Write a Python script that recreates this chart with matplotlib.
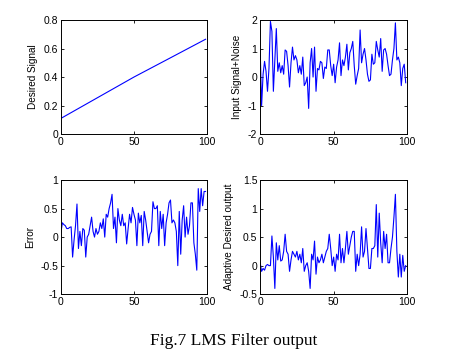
import numpy as np
import matplotlib
matplotlib.use("Agg")
import matplotlib.pyplot as plt
from matplotlib.ticker import FuncFormatter

# desired signal (nearly straight ramp), read at a few points
desired_x = [0, 25, 50, 75, 99]
desired_y = [0.11, 0.255, 0.40, 0.535, 0.665]

# input signal + noise, 100 samples
noisy = [1.0, -1.0, 0.1, 0.55, 0.2, -0.5, 0.3, 1.95, 1.6, -0.5,
         0.6, 1.7, 0.2, 0.5, 0.15, 0.4, 0.1, 0.95, 0.9, 0.4,
         -0.35, 0.5, 1.05, 0.6, 0.75, 0.6, 0.15, 0.4, 0.1, 0.7,
         -0.3, -0.2, 0.0, -1.1, 0.5, 1.0, 0.0, 1.05, -0.5, 0.3,
         0.25, 0.55, 0.5, -0.05, 0.35, 0.3, 0.95, 0.95, 0.4, 0.05,
         0.45, -0.2, 0.35, 0.6, 1.2, 0.05, 0.6, 0.4, 0.7, 1.15,
         0.25, 0.85, 1.0, 1.25, 0.4, -0.25, 0.05, 0.3, 1.65, 0.5,
         0.8, 1.0, 0.6, 0.1, -0.15, -0.1, 0.8, 0.45, 0.5, 1.25,
         0.95, 0.7, 1.35, 0.2, 0.95, 1.0, 0.8, 0.4, 0.05, 0.1,
         0.6, 1.0, 1.9, 0.6, 0.7, 0.5, -0.3, 0.3, 0.45, -0.2]

# error
error = [0.08, 0.25, 0.22, 0.2, 0.15, 0.15, 0.17, 0.18, -0.35, -0.05,
         0.2, 0.58, -0.2, 0.1, -0.15, 0.15, 0.12, -0.35, 0.0, 0.05,
         0.2, 0.35, 0.1, 0.0, 0.15, 0.05, 0.1, 0.25, 0.15, 0.32,
         0.0, 0.4, 0.35, 0.5, 0.6, 0.75, 0.15, 0.35, -0.1, 0.5,
         0.3, 0.2, 0.4, 0.2, 0.25, -0.12, 0.15, 0.4, 0.25, 0.52,
         0.4, 0.3, -0.15, 0.42, 0.25, 0.38, -0.15, 0.45, 0.3, 0.1,
         -0.1, 0.05, 0.1, 0.62, 0.5, 0.5, 0.55, -0.15, 0.45, 0.15,
         0.4, -0.15, 0.25, 0.4, 0.6, 0.65, 0.25, 0.3, 0.25, 0.1,
         -0.5, 0.45, -0.3, 0.3, 0.55, 0.0, 0.35, 0.05, 0.2, 0.6,
         0.6, -0.1, -0.3, -0.58, 0.85, 0.45, 0.85, 0.55, 0.8, 0.8]

# adaptive desired output
adaptive = [0.05, -0.1, -0.05, -0.08, 0.0, 0.02, 0.0, 0.0, 0.52, 0.15,
            -0.4, 0.4, 0.1, 0.35, 0.08, 0.1, 0.25, 0.55, 0.25, 0.2,
            -0.1, 0.1, 0.25, 0.2, 0.15, 0.25, 0.1, 0.2, 0.05, 0.3,
            -0.1, 0.0, 0.05, -0.1, -0.4, 0.2, 0.1, 0.43, -0.15, 0.15,
            0.05, 0.1, 0.2, 0.05, 0.15, 0.25, 0.3, 0.55, 0.3, 0.0,
            0.15, -0.1, 0.2, 0.1, 0.55, 0.05, 0.3, 0.05, 0.3, 0.6,
            0.2, 0.35, 0.5, 0.6, 0.6, -0.1, 0.2, 0.0, 0.2, 0.68,
            0.15, 0.25, 0.65, 0.3, -0.05, -0.05, 0.3, 0.3, 0.35, 1.07,
            0.15, 0.92, 0.4, 0.05, 0.6, 0.3, 0.55, 0.05, 0.05, 0.3,
            0.5, 0.85, 1.25, 0.25, -0.2, 0.2, -0.2, 0.18, -0.1, 0.0]

plt.rcParams['font.family'] = ['Liberation Sans', 'DejaVu Sans']

fig = plt.figure(figsize=(4.58, 3.51), dpi=100)
fig.patch.set_facecolor('white')

boxes = [[0.133, 0.618, 0.319, 0.325],
         [0.568, 0.618, 0.321, 0.325],
         [0.133, 0.162, 0.319, 0.325],
         [0.568, 0.162, 0.321, 0.325]]
labels = ['Desired Signal', 'Input Signal+Noise', 'Error', 'Adaptive Desired output']
ylims = [(0, 0.8), (-2, 2), (-1, 1), (-0.5, 1.5)]
yticks = [[0, 0.2, 0.4, 0.6, 0.8], [-2, -1, 0, 1, 2],
          [-1, -0.5, 0, 0.5, 1], [-0.5, 0, 0.5, 1, 1.5]]

t = np.arange(100)
series = [(desired_x, desired_y), (t, noisy), (t, error), (t, adaptive)]

for i in range(4):
    ax = fig.add_axes(boxes[i])
    ax.plot(series[i][0], series[i][1], color='#0000ff', lw=0.8)
    ax.set_xlim(0, 100)
    ax.set_ylim(*ylims[i])
    ax.set_xticks([0, 50, 100])
    ax.set_yticks(yticks[i])
    ax.yaxis.set_major_formatter(FuncFormatter(lambda v, p: '%g' % v))
    ax.tick_params(direction='in', top=True, right=True, length=2.5,
                   width=0.6, labelsize=7.5, pad=2)
    for s in ax.spines.values():
        s.set_linewidth(0.7)
    ax.set_ylabel(labels[i], fontsize=7.2, labelpad=4)

fig.text(0.51, 0.028, 'Fig.7 LMS Filter output', ha='center', va='center',
         fontsize=12.5, family=['Liberation Serif', 'DejaVu Serif'])

fig.savefig('out.png', dpi=100)
